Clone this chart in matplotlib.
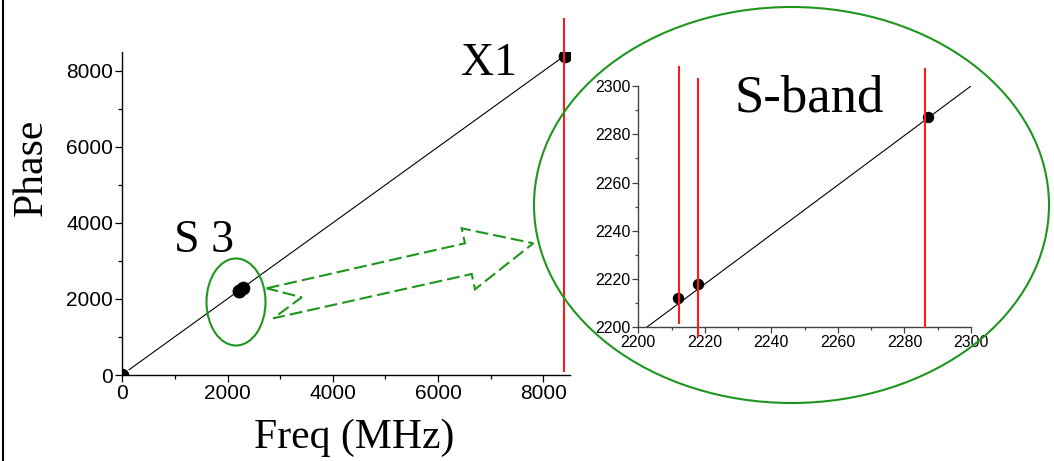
import matplotlib
matplotlib.use('Agg')
import matplotlib.pyplot as plt
from matplotlib.patches import Ellipse, Polygon
from matplotlib.lines import Line2D
from matplotlib.transforms import Affine2D
from matplotlib.ticker import MultipleLocator, FixedLocator

W, H = 1054, 461

# ---------------- data ----------------
main_points_x = [0, 2212, 2218, 2287, 8420]
main_points_y = [0, 2212, 2218, 2287, 8400]
main_line_x = [130, 8310]
main_line_y = [140, 8300]
x1_red_x = 8390
x1_red_y = [105, 9356]

sband_x = [2212, 2218, 2287]
sband_y = [2212.3, 2218.1, 2287]
sband_line_x = [2202.5, 2300]
sband_line_y = [2200, 2300]
sband_red_x = [2212.2, 2218.0, 2286.1]
sband_red_lo = [2201.7, 2196.4, 2200.3]
sband_red_hi = [2308, 2302.8, 2306.9]

main_ticks = [0, 2000, 4000, 6000, 8000]
inset_ticks = [2200, 2220, 2240, 2260, 2280, 2300]

GREEN = '#1e961e'
RED = '#ff1a1a'
SERIF = 'Liberation Serif'
SANS = 'Liberation Sans'

fig = plt.figure(figsize=(W / 100, H / 100), dpi=100)
fig.patch.set_facecolor('white')


def px_axes(l, t, r, b):
    return [l / W, 1 - b / H, (r - l) / W, (b - t) / H]


pix = Affine2D().scale(1 / W, -1 / H).translate(0, 1) + fig.transFigure

# ---------------- main axes ----------------
ax = fig.add_axes(px_axes(122.3, 51.7, 569.6, 375))
ax.set_xlim(0, 8500)
ax.set_ylim(0, 8500)
ax.set_facecolor('none')
for s in ['top', 'right']:
    ax.spines[s].set_visible(False)
for s in ['left', 'bottom']:
    ax.spines[s].set_linewidth(1.0)
ax.xaxis.set_major_locator(FixedLocator(main_ticks))
ax.yaxis.set_major_locator(FixedLocator(main_ticks))
ax.xaxis.set_minor_locator(MultipleLocator(1000))
ax.yaxis.set_minor_locator(MultipleLocator(1000))
ax.tick_params(which='major', direction='out', length=5.2, width=0.9, pad=1.5)
ax.tick_params(which='minor', direction='out', length=3, width=0.9)
for lab in ax.get_xticklabels() + ax.get_yticklabels():
    lab.set_fontfamily(SANS)
    lab.set_fontsize(15)

ax.plot(main_line_x, main_line_y, color='black', lw=0.8, zorder=2)
ax.plot(main_points_x, main_points_y, 'o', color='black', ms=8.8, zorder=3)
ax.plot([x1_red_x, x1_red_x], x1_red_y, color=RED, lw=1.5, clip_on=False, zorder=4)

# ---------------- inset axes ----------------
ax2 = fig.add_axes(px_axes(638.3, 86, 971, 327.3))
ax2.set_xlim(2200, 2300)
ax2.set_ylim(2200, 2300)
ax2.set_facecolor('none')
for s in ['top', 'right']:
    ax2.spines[s].set_visible(False)
for s in ['left', 'bottom']:
    ax2.spines[s].set_linewidth(1.0)
    ax2.spines[s].set_color('#444444')
ax2.xaxis.set_major_locator(FixedLocator(inset_ticks))
ax2.yaxis.set_major_locator(FixedLocator(inset_ticks))
ax2.xaxis.set_minor_locator(MultipleLocator(10))
ax2.yaxis.set_minor_locator(MultipleLocator(10))
ax2.tick_params(which='major', direction='out', length=4.5, width=0.9, pad=1.2,
                color='#444444')
ax2.tick_params(which='minor', direction='out', length=2.5, width=0.9, color='#444444')
for lab in ax2.get_xticklabels() + ax2.get_yticklabels():
    lab.set_fontfamily(SANS)
    lab.set_fontsize(11.5)

ax2.plot(sband_line_x, sband_line_y, color='black', lw=0.8, zorder=2)
ax2.plot(sband_x, sband_y, 'o', color='black', ms=7.2, zorder=3)
for x, lo, hi in zip(sband_red_x, sband_red_lo, sband_red_hi):
    ax2.plot([x, x], [lo, hi], color=RED, lw=1.5, clip_on=False, zorder=4)

# ---------------- annotations ----------------
fig.add_artist(Ellipse((791.5, 205), 515, 396, transform=pix, fill=False,
                       ec=GREEN, lw=1.5, zorder=5))
fig.add_artist(Ellipse((236, 302), 59, 87, transform=pix, fill=False,
                       ec=GREEN, lw=1.5, zorder=5))
arrow_pts = [(266.7, 288.3), (465, 243.3), (461.7, 228.3), (533.3, 243.3),
             (475, 289.3), (471.7, 274), (273.3, 318.3), (301.7, 297.3)]
fig.add_artist(Polygon(arrow_pts, closed=True, transform=pix, fill=False,
                       ec=GREEN, lw=1.5, linestyle=(0, (6.2, 2.4)), zorder=5))

# left border line
fig.add_artist(Line2D([3.3 / W, 3.3 / W], [0, 1], color='black', lw=1.5,
                      transform=fig.transFigure))

# texts
fig.text(354 / W, 1 - 448 / H, 'Freq (MHz)', family=SERIF, size=30,
         ha='center', va='baseline')
fig.text(32 / W, 1 - 167 / H, 'Phase', family=SERIF, size=30, rotation=90,
         ha='center', va='center')
fig.text(489 / W, 1 - 75 / H, 'X1', family=SERIF, size=33, ha='center', va='baseline')
fig.text(204 / W, 1 - 252 / H, 'S 3', family=SERIF, size=33, ha='center', va='baseline')
fig.text(809 / W, 1 - 112 / H, 'S-band', family=SERIF, size=38, ha='center', va='baseline')

fig.savefig('out.png', dpi=100)
